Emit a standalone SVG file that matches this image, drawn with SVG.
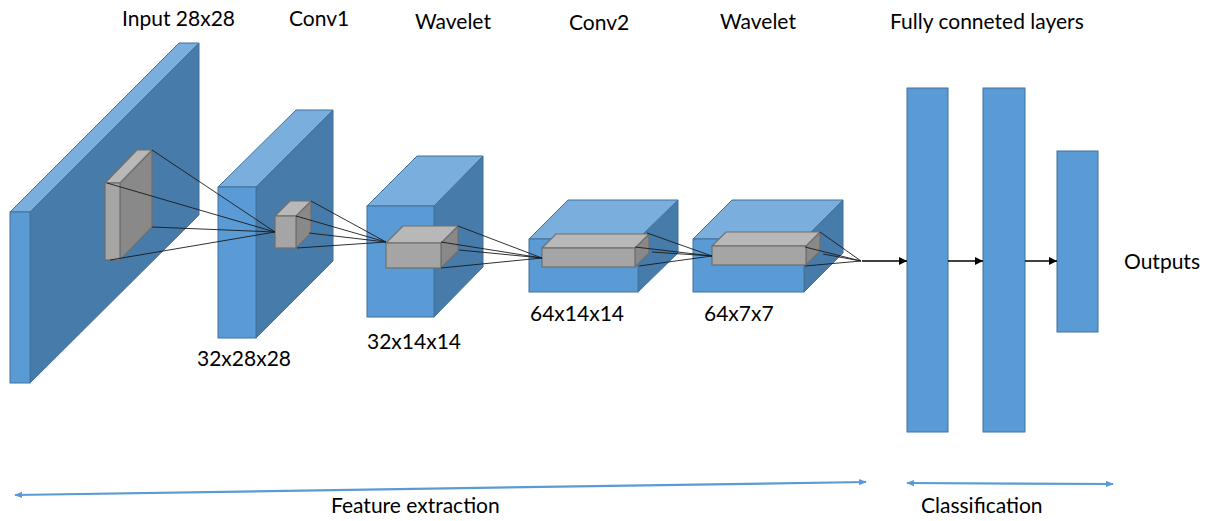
<svg xmlns="http://www.w3.org/2000/svg" width="1208" height="521" viewBox="0 0 1208 521">
  <style>
    .front { fill: #5B9BD5; stroke: #41719C; stroke-width: 1; }
    .top { fill: #7AAEDD; stroke: #41719C; stroke-width: 1; }
    .side { fill: #477CAA; stroke: #41719C; stroke-width: 1; }
    .kfront { fill: #A5A5A5; stroke: #6E6E6E; stroke-width: 1.2; }
    .ktop { fill: #B8B8B8; stroke: #6E6E6E; stroke-width: 1.2; }
    .kside { fill: #898989; stroke: #6E6E6E; stroke-width: 1.2; }
    .fc { fill: #5B9BD5; stroke: #41719C; stroke-width: 1; }
    .ray { stroke: #1a1a1a; stroke-width: 0.9; fill: none; }
    .flow { stroke: #000; stroke-width: 1.5; fill: none; marker-end: url(#head); }
    .span { stroke: #5B9BD5; stroke-width: 2.2; fill: none; marker-start: url(#bhead); marker-end: url(#bhead); }
    text { font-family: Lato, "Liberation Sans", sans-serif; font-size: 21px; fill: #000; }
  </style>
  <defs>
    <marker id="head" viewBox="0 0 10 10" refX="10" refY="5" markerWidth="8" markerHeight="8" markerUnits="userSpaceOnUse" orient="auto">
      <path d="M0,0 L10,5 L0,10 z" fill="#000"/>
    </marker>
    <marker id="bhead" viewBox="0 0 10 10" refX="9" refY="5" markerWidth="8" markerHeight="8" markerUnits="userSpaceOnUse" orient="auto-start-reverse">
      <path d="M0,1 L10,5 L0,9 z" fill="#5B9BD5"/>
    </marker>
  </defs>

  <!-- Input volume 28x28 -->
  <g id="input">
    <polygon class="side" points="30,212 199,43 199,215 30,383"/>
    <polygon class="top" points="10,212 30,212 199,43 179,43"/>
    <rect class="front" x="10" y="212" width="20" height="171"/>
    <polygon class="kside" points="120,183 152,150 152,227 120,260"/>
    <polygon class="ktop" points="105,183 120,183 152,150 137,150"/>
    <rect class="kfront" x="105" y="183" width="15" height="77"/>
  </g>

  <!-- Conv1 feature maps -->
  <g id="conv1">
    <polygon class="side" points="256,187 333,110 333,261 256,338"/>
    <polygon class="top" points="218,187 256,187 333,110 296,110"/>
    <rect class="front" x="218" y="187" width="38" height="151"/>
    <polygon class="kside" points="296,216 311,201 311,233 296,248"/>
    <polygon class="ktop" points="275,216 296,216 311,201 290,201"/>
    <rect class="kfront" x="275" y="216" width="21" height="32"/>
  </g>

  <!-- First wavelet pooling -->
  <g id="wavelet1">
    <polygon class="side" points="434,206 483,156 483,267 434,317"/>
    <polygon class="top" points="367,206 434,206 483,156 417,156"/>
    <rect class="front" x="367" y="206" width="67" height="111"/>
    <polygon class="kside" points="441,243 458,226 458,251 441,268"/>
    <polygon class="ktop" points="386,243 441,243 458,226 403,226"/>
    <rect class="kfront" x="386" y="243" width="55" height="25"/>
  </g>

  <!-- Conv2 feature maps -->
  <g id="conv2">
    <polygon class="side" points="638,239 678,200 678,253 638,292"/>
    <polygon class="top" points="529,239 638,239 678,200 568,200"/>
    <rect class="front" x="529" y="239" width="109" height="53"/>
    <polygon class="kside" points="635,248 649,234 649,253 635,267"/>
    <polygon class="ktop" points="542,248 635,248 649,234 556,234"/>
    <rect class="kfront" x="542" y="248" width="93" height="19"/>
  </g>

  <!-- Second wavelet pooling -->
  <g id="wavelet2">
    <polygon class="side" points="804,239 843,200 843,253 804,292"/>
    <polygon class="top" points="693,239 804,239 843,200 732,200"/>
    <rect class="front" x="693" y="239" width="111" height="53"/>
    <polygon class="kside" points="806,246 820,232 820,251 806,265"/>
    <polygon class="ktop" points="712,246 806,246 820,232 726,232"/>
    <rect class="kfront" x="712" y="246" width="94" height="19"/>
  </g>

  <!-- Fully connected layers -->
  <g id="fc1"><rect class="fc" x="907" y="88" width="41" height="344"/></g>
  <g id="fc2"><rect class="fc" x="983" y="88" width="42" height="344"/></g>
  <g id="fc3"><rect class="fc" x="1057" y="151" width="41" height="181"/></g>

  <!-- Receptive-field rays and data flow -->
  <g id="connectors">
    <path class="ray" d="M152,150 L275,232 M107,183 L275,232 M152,227 L275,232 M110,260 L275,232"/>
    <path class="ray" d="M311,201 L386,242 M296,216 L386,242 M309,233 L386,242 M297,248 L386,242"/>
    <path class="ray" d="M458,226 L542,258 M441,242 L542,258 M459,250 L542,258 M441,268 L542,258"/>
    <path class="ray" d="M647,233 L712,256 M635,247 L712,256 M652,252 L712,256 M639,266 L712,256"/>
    <path class="ray" d="M820,232 L861,261 M805,247 L861,261 M823,254 L861,261 M805,266 L861,261"/>
    <line class="flow" x1="862" y1="261" x2="907" y2="261"/>
    <line class="flow" x1="948" y1="261" x2="983" y2="261"/>
    <line class="flow" x1="1025" y1="261" x2="1057" y2="261"/>
    <line class="span" x1="15" y1="495" x2="866" y2="482"/>
    <line class="span" x1="907" y1="483" x2="1113" y2="484"/>
  </g>

  <!-- Labels -->
  <g id="labels">
    <text x="122" y="26">Input 28x28</text>
    <text x="289" y="26">Conv1</text>
    <text x="415" y="29">Wavelet</text>
    <text x="569" y="30">Conv2</text>
    <text x="720" y="29">Wavelet</text>
    <text x="890" y="29">Fully conneted layers</text>
    <text x="197" y="366">32x28x28</text>
    <text x="367" y="349">32x14x14</text>
    <text x="530" y="321">64x14x14</text>
    <text x="704" y="321">64x7x7</text>
    <text x="1124" y="269">Outputs</text>
    <text x="331" y="513">Feature extraction</text>
    <text x="921" y="513">Classification</text>
  </g>
</svg>
